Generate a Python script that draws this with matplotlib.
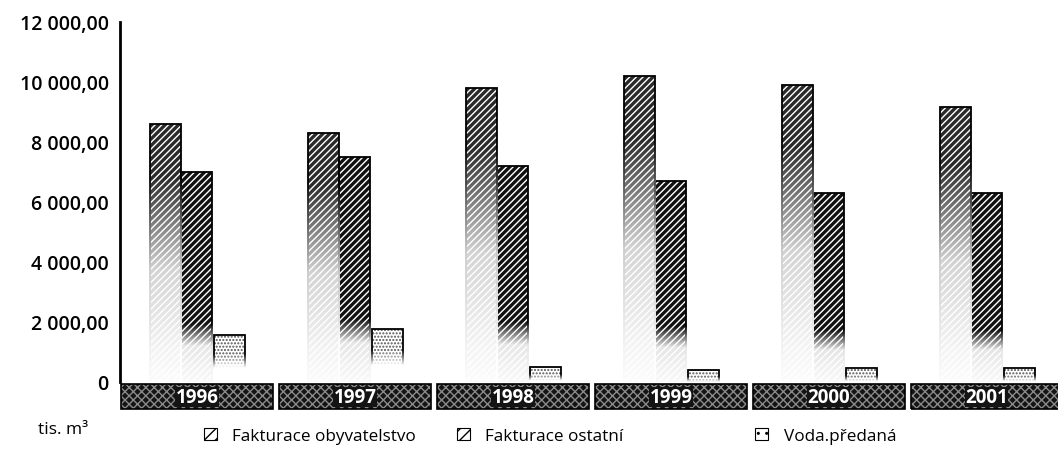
import numpy as np
import matplotlib
matplotlib.use('Agg')
import matplotlib.pyplot as plt
from matplotlib.patches import Patch, Rectangle
import matplotlib.transforms as mtransforms

years = ['1996', '1997', '1998', '1999', '2000', '2001']
fakturace_obyvatelstvo = [8600, 8300, 9800, 10200, 9900, 9150]
fakturace_ostatni = [7000, 7500, 7200, 6700, 6300, 6300]
voda_predana = [1550, 1750, 500, 400, 450, 450]
series_names = ['Fakturace obyvatelstvo', 'Fakturace ostatní', 'Voda.předaná']
y_ticks = [0, 2000, 4000, 6000, 8000, 10000, 12000]

plt.rcParams['font.family'] = ['Open Sans', 'DejaVu Sans']
plt.rcParams['hatch.linewidth'] = 1.0


def y_label(v):
    if v == 0:
        return '0'
    s = '{:,.2f}'.format(v)
    return s.replace(',', ' ').replace('.', ',')


def fade(ax, x0, w, h, stops, alphas):
    # white overlay that washes the lower part of a bar out, like the scan
    f = np.linspace(0, 1, 200)
    img = np.ones((200, 1, 4))
    img[:, 0, 3] = np.interp(f, stops, alphas)
    pad = 0.006
    ax.imshow(img, extent=[x0 - pad, x0 + w + pad, -250, h], origin='lower',
              aspect='auto', zorder=4, interpolation='bilinear')


fig = plt.figure(figsize=(10.58, 4.52), dpi=100)
ax = fig.add_axes([0.1134, 0.1527, 0.8866, 0.7965])

x = np.arange(len(years))
width = 0.196
offsets = [-0.2, 0.0, 0.208]
series = [fakturace_obyvatelstvo, fakturace_ostatni, voda_predana]
faces = ['#2a2a2a', '#111111', 'white']
hatch_cols = ['white', 'white', '#555555']
hatches = ['/////', '/////', '.....']
fade_stops = [([0, 0.15, 0.45, 0.8, 1], [1, 0.95, 0.8, 0, 0]),
              ([0, 0.2, 0.3, 1], [1, 0.9, 0, 0]),
              ([0, 0.4, 0.65, 1], [1, 1, 0, 0])]

for vals, off, fc, hc, ht, (st, al) in zip(series, offsets, faces, hatch_cols, hatches, fade_stops):
    xs = x + off
    ax.bar(xs, vals, width, color=fc, edgecolor=hc, hatch=ht, linewidth=0, zorder=2)
    ax.bar(xs, vals, width, fill=False, edgecolor='black', linewidth=1.3, zorder=3)
    for xi, v in zip(xs, vals):
        fade(ax, xi - width / 2, width, v, st, al)

# dark year bands under the axis
trans = mtransforms.blended_transform_factory(ax.transData, ax.transAxes)
for xi, yr in zip(x, years):
    band = Rectangle((xi - 0.48, -0.075), 0.96, 0.069, transform=trans,
                     facecolor='#141414', edgecolor='#8a8a8a', hatch='xxxx',
                     linewidth=0, clip_on=False, zorder=1)
    ax.add_patch(band)
    ax.add_patch(Rectangle((xi - 0.48, -0.075), 0.96, 0.069, transform=trans,
                           fill=False, edgecolor='black', linewidth=1.2,
                           clip_on=False, zorder=1))
    ax.text(xi, -0.041, yr, transform=trans, ha='center', va='center',
            color='white', fontsize=13.5, fontweight='bold', zorder=5,
            bbox=dict(facecolor='#141414', edgecolor='none', pad=0.2))

ax.set_xlim(-0.487, 5.45)
ax.set_ylim(0, 12000)
ax.set_yticks(y_ticks)
ax.set_yticklabels([y_label(v) for v in y_ticks], fontsize=14, fontweight='semibold')
ax.tick_params(axis='y', length=0, pad=8)
ax.set_xticks([])
for side in ['top', 'right', 'bottom']:
    ax.spines[side].set_visible(False)
ax.spines['left'].set_linewidth(2)

fig.text(0.036, 0.048, 'tis. m³', fontsize=12.5, va='center')

legend_x = [0.193, 0.432, 0.714]
for name, fc, lx in zip(series_names, faces, legend_x):
    h = Patch(facecolor='white', edgecolor='black', hatch='///' if fc != 'white' else '..',
              linewidth=0.8)
    fig.legend(handles=[h], labels=[name], loc='center left',
               bbox_to_anchor=(lx, 0.034), frameon=False, fontsize=12.3,
               handlelength=0.75, handleheight=0.75, handletextpad=0.9,
               borderpad=0, borderaxespad=0)

fig.savefig('out.png', dpi=100)
